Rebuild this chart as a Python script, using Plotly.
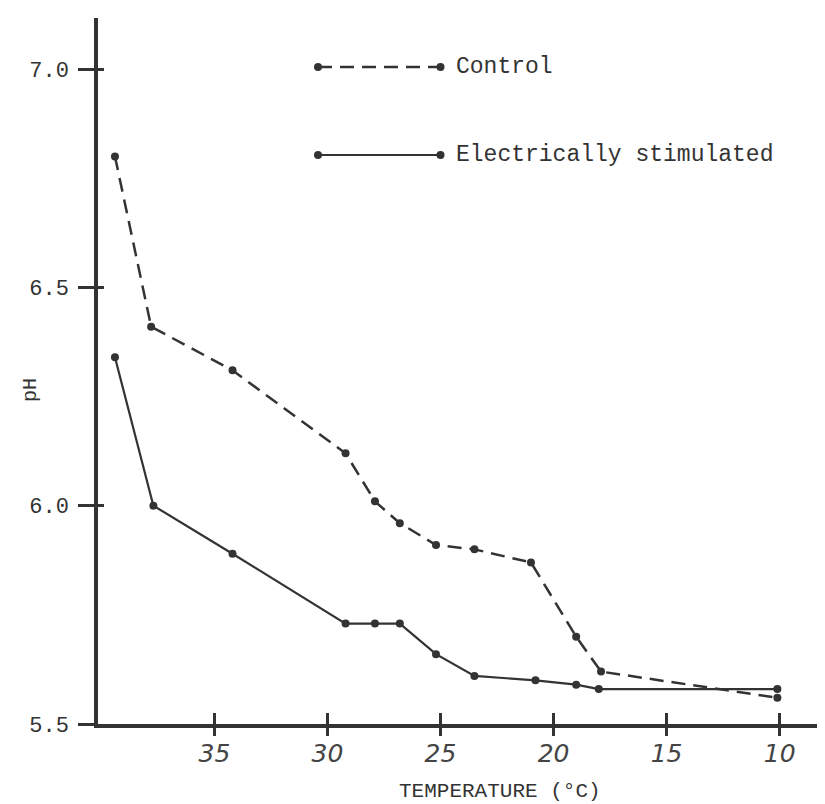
import plotly.graph_objects as go

# ---- data ----
control_temp = [39.4, 37.8, 34.2, 29.2, 27.9, 26.8, 25.2, 23.5, 21.0, 19.0, 17.9, 10.1]
control_ph = [6.80, 6.41, 6.31, 6.12, 6.01, 5.96, 5.91, 5.90, 5.87, 5.70, 5.62, 5.56]
stim_temp = [39.4, 37.7, 34.2, 29.2, 27.9, 26.8, 25.2, 23.5, 20.8, 19.0, 18.0, 10.1]
stim_ph = [6.34, 6.00, 5.89, 5.73, 5.73, 5.73, 5.66, 5.61, 5.60, 5.59, 5.58, 5.58]

x_tickvals = [35, 30, 25, 20, 15, 10]
x_ticktext = ["35", "30", "25", "20", "15", "10"]
y_tickvals = [5.5, 6.0, 6.5, 7.0]
y_ticktext = ["5.5", "6.0", "6.5", "7.0"]

series_names = ["Control", "Electrically stimulated"]
x_title = "TEMPERATURE (°C)"
y_title = "pH"

INK = "#333333"
MONO = "Liberation Mono, Courier New, monospace"

W, H = 825, 804
L, R, T, B = 90, 0, 10, 88
PW, PH = W - L - R, H - T - B
X_RANGE = [40.15, 7.64]
Y_RANGE = [5.5, 7.117]

def px2paper(px, py):
    return (px - L) / PW, (H - B - py) / PH

fig = go.Figure()
fig.add_trace(go.Scatter(
    x=control_temp, y=control_ph, mode="lines+markers", name=series_names[0],
    line=dict(color=INK, width=2.5, dash="14px,8px"),
    marker=dict(color=INK, size=8), showlegend=False, hoverinfo="skip"))
fig.add_trace(go.Scatter(
    x=stim_temp, y=stim_ph, mode="lines+markers", name=series_names[1],
    xaxis="x2", yaxis="y2",
    line=dict(color=INK, width=2.2),
    marker=dict(color=INK, size=8), showlegend=False, hoverinfo="skip"))

axis_common = dict(showgrid=False, zeroline=False)
fig.update_layout(
    width=W, height=H,
    margin=dict(l=L, r=R, t=T, b=B, pad=0),
    paper_bgcolor="white", plot_bgcolor="white",
    xaxis=dict(range=X_RANGE, tickvals=x_tickvals, ticktext=x_ticktext,
               ticks="outside", ticklen=8, tickwidth=2.5, tickcolor=INK,
               showline=True, linewidth=4, linecolor=INK,
               tickfont=dict(family="DejaVu Sans", size=25, color="#444", style="italic"),
               ticklabelstandoff=-4, **axis_common),
    yaxis=dict(range=Y_RANGE, tickvals=y_tickvals, ticktext=y_ticktext,
               ticks="outside", ticklen=16, tickwidth=2.5, tickcolor=INK,
               showline=True, linewidth=3.5, linecolor=INK,
               tickfont=dict(family=MONO, size=22, color=INK),
               ticklabelstandoff=5, **axis_common),
    xaxis2=dict(range=X_RANGE, overlaying="x", anchor="y2", side="bottom",
                tickvals=x_tickvals, showticklabels=False,
                ticks="inside", ticklen=11, tickwidth=2.5, tickcolor=INK,
                showline=False, **axis_common),
    yaxis2=dict(range=Y_RANGE, overlaying="y", anchor="x2", side="left",
                tickvals=y_tickvals, showticklabels=False,
                ticks="inside", ticklen=6, tickwidth=2.5, tickcolor=INK,
                showline=False, **axis_common),
)

annotations = []
# axis titles
ax, ay = px2paper(492, 783)
annotations.append(dict(text=x_title, xref="paper", yref="paper", x=ax, y=ay,
                        xanchor="center", yanchor="middle", showarrow=False,
                        font=dict(family=MONO, size=21, color=INK)))
ax, ay = px2paper(22, 382)
annotations.append(dict(text=y_title, xref="paper", yref="paper", x=ax, y=ay,
                        xanchor="center", yanchor="middle", showarrow=False, textangle=-90,
                        font=dict(family=MONO, size=20, color=INK)))

# legend keys (drawn in paper space)
shapes = []
leg_rows = [(59, "14px,8px", 2.5), (147, "solid", 2.2)]
for name, (py, dash, lw) in zip(series_names, leg_rows):
    x0, y0 = px2paper(310, py)
    x1, _ = px2paper(432.5, py)
    shapes.append(dict(type="line", xref="paper", yref="paper", x0=x0, x1=x1, y0=y0, y1=y0,
                       line=dict(color=INK, width=lw, dash=dash)))
    for cx in (310, 432.5):
        a0, b0 = px2paper(cx - 4, py - 4)
        a1, b1 = px2paper(cx + 4, py + 4)
        shapes.append(dict(type="circle", xref="paper", yref="paper",
                           x0=a0, x1=a1, y0=b1, y1=b0, fillcolor=INK, line=dict(width=0)))
    tx, ty = px2paper(446, py)
    annotations.append(dict(text=name, xref="paper", yref="paper", x=tx, y=ty,
                            xanchor="left", yanchor="middle", showarrow=False,
                            font=dict(family=MONO, size=23, color=INK)))

fig.update_layout(annotations=annotations, shapes=shapes)
fig.write_html("out.html")
